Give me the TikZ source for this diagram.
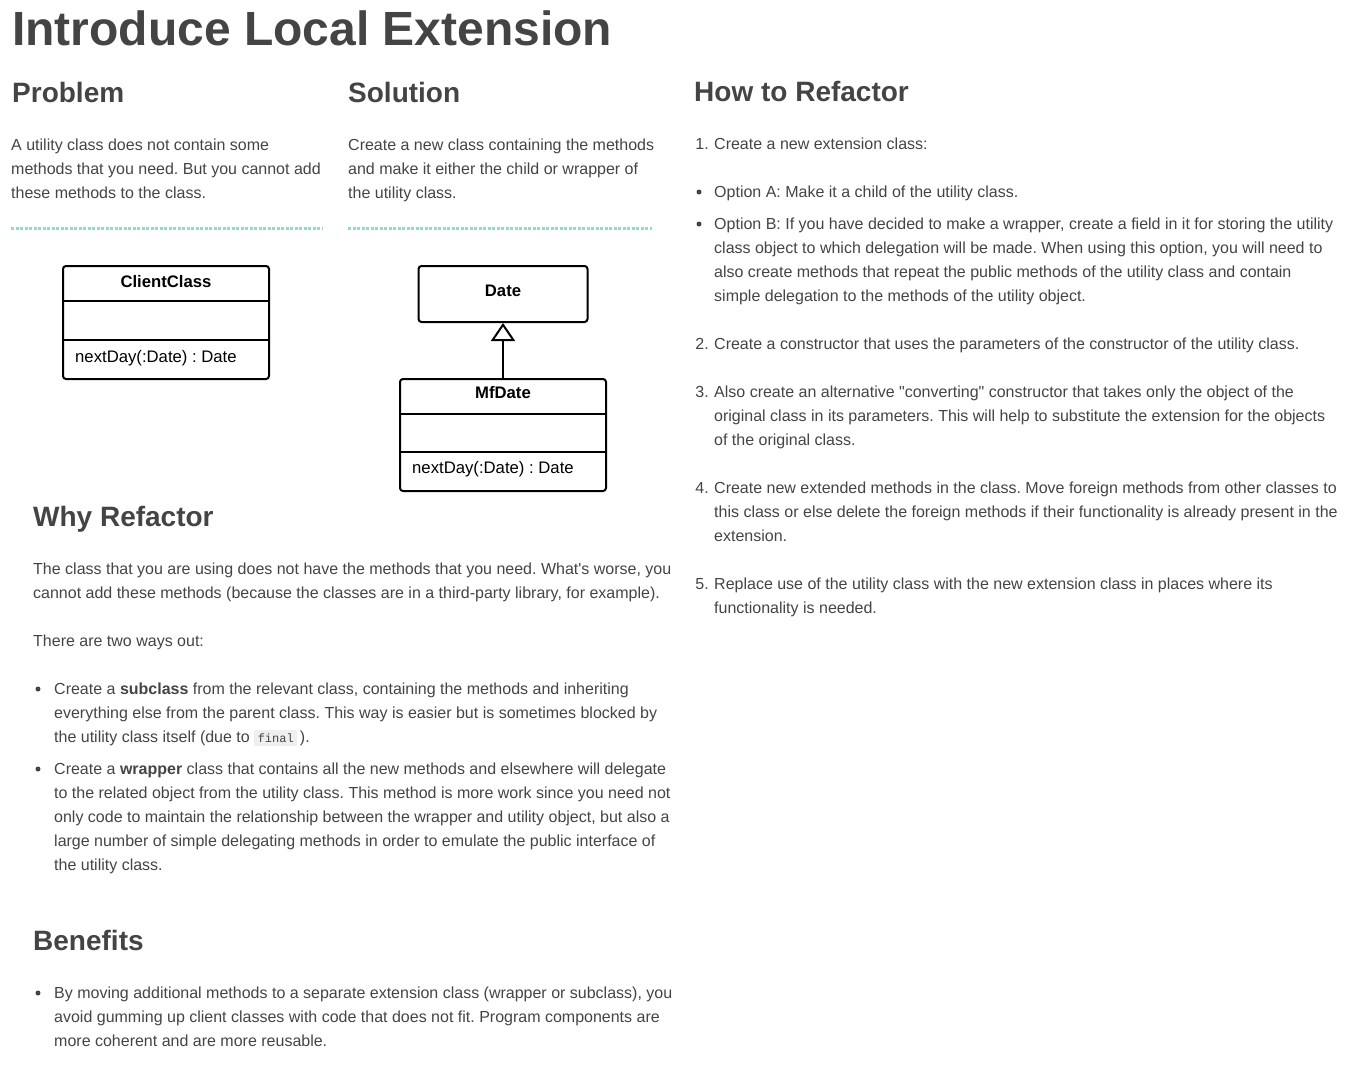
\documentclass[tikz,border=0pt]{standalone}
\usepackage{fontspec}
\setmainfont[Ligatures=TeXOff]{Liberation Sans}
\setmonofont{Liberation Mono}
\usetikzlibrary{arrows.meta}
\definecolor{ink}{HTML}{444444}
\definecolor{rulecol}{HTML}{8FDCCD}
\definecolor{chipcol}{HTML}{EFEFEF}
\newcommand{\finalchip}{{\setlength{\fboxsep}{3.5pt}\colorbox{chipcol}{\fontsize{12}{12}\selectfont\ttfamily\color{ink}final}}}
\frenchspacing
\begin{document}
\begin{tikzpicture}[x=1pt, y=-1pt,
		every node/.style={inner sep=0pt, text=ink},
		body/.style={anchor=base west, align=left, font=\fontsize{16}{24}\selectfont},
		heading/.style={anchor=base west, font=\fontsize{28}{32}\selectfont\bfseries},
		classbox/.style={draw, line width=2pt, rounded corners=3pt},
		classtext/.style={text=black, font=\fontsize{16.7}{20}\selectfont},
		classname/.style={text=black, font=\fontsize{16.7}{20}\selectfont\bfseries},
		dotrule/.style={draw=rulecol, line width=3pt, dash pattern=on 3pt off 1.5pt},
		bullet/.style={fill=ink}]
		\useasboundingbox (0,0) rectangle (1364,1071);
		% title and the two top columns (base of a text = its last line)
		\node (title) at (12,45) [anchor=base west, font=\fontsize{48}{52}\selectfont\bfseries] {Introduce Local Extension};
		\node (problemhead) at (12,102) [heading] {Problem};
		\node (solutionhead) at (348,102) [heading] {Solution};
		\node (problemtext) at (11,198) [body] {A utility class does not contain some\\methods that you need. But you cannot add\\these methods to the class.};
		\node (solutiontext) at (348,198) [body] {Create a new class containing the methods\\and make it either the child or wrapper of\\the utility class.};
		\draw[dotrule] (11,228) -- (322,228);
		\draw[dotrule] (348,228) -- (652,228);
		% class diagrams
		\node (clientbox) at (166,322.5) [classbox, minimum width=206pt, minimum height=113pt] {};
		\draw[line width=2pt] (clientbox.west |- 0,301) -- (clientbox.east |- 0,301);
		\draw[line width=2pt] (clientbox.west |- 0,340) -- (clientbox.east |- 0,340);
		\node (clientname) at (166,282) [classname] {ClientClass};
		\node (clientop) at (75,358) [classtext, anchor=west] {nextDay(:Date) : Date};
		\node (datebox) at (503,294) [classbox, minimum width=169pt, minimum height=56pt] {};
		\node (datename) at (503,291) [classname] {Date};
		\node (mfdatebox) at (503,435) [classbox, minimum width=206pt, minimum height=112pt] {};
		\draw[line width=2pt] (mfdatebox.west |- 0,414) -- (mfdatebox.east |- 0,414);
		\draw[line width=2pt] (mfdatebox.west |- 0,452) -- (mfdatebox.east |- 0,452);
		\node (mfdatename) at (503,393) [classname] {MfDate};
		\node (mfdateop) at (412,469) [classtext, anchor=west] {nextDay(:Date) : Date};
		\draw[line width=2pt, -{Triangle[open, length=18pt, width=24pt]}] (mfdatebox.north) -- (datebox.south);
		% why refactor
		\node (whyhead) at (33,526) [heading] {Why Refactor};
		\node (whytext) at (33,598) [body] {The class that you are using does not have the methods that you need. What's worse, you\\cannot add these methods (because the classes are in a third-party library, for example).};
		\node (waysout) at (33,646) [body] {There are two ways out:};
		\fill[bullet] (38,689) circle (2.5pt);
		\node (subclassitem) at (54,742) [body] {Create a \textbf{subclass} from the relevant class, containing the methods and inheriting\\everything else from the parent class. This way is easier but is sometimes blocked by\\the utility class itself (due to \finalchip\,).};
		\fill[bullet] (38,769) circle (2.5pt);
		\node (wrapperitem) at (54,870) [body] {Create a \textbf{wrapper} class that contains all the new methods and elsewhere will delegate\\to the related object from the utility class. This method is more work since you need not\\only code to maintain the relationship between the wrapper and utility object, but also a\\large number of simple delegating methods in order to emulate the public interface of\\the utility class.};
		% benefits
		\node (benefitshead) at (33,950) [heading] {Benefits};
		\fill[bullet] (38,993) circle (2.5pt);
		\node (benefititem) at (54,1046) [body] {By moving additional methods to a separate extension class (wrapper or subclass), you\\avoid gumming up client classes with code that does not fit. Program components are\\more coherent and are more reusable.};
		% how to refactor
		\node (howhead) at (694,101) [heading] {How to Refactor};
		\node (num1) at (709,149) [body, anchor=base east] {1.};
		\node (step1) at (714,149) [body] {Create a new extension class:};
		\fill[bullet] (699,192) circle (2.5pt);
		\node (optiona) at (714,197) [body] {Option A: Make it a child of the utility class.};
		\fill[bullet] (699,224) circle (2.5pt);
		\node (optionb) at (714,301) [body] {Option B: If you have decided to make a wrapper, create a field in it for storing the utility\\class object to which delegation will be made. When using this option, you will need to\\also create methods that repeat the public methods of the utility class and contain\\simple delegation to the methods of the utility object.};
		\node (num2) at (709,349) [body, anchor=base east] {2.};
		\node (step2) at (714,349) [body] {Create a constructor that uses the parameters of the constructor of the utility class.};
		\node (num3) at (709,397) [body, anchor=base east] {3.};
		\node (step3) at (714,445) [body] {Also create an alternative "converting" constructor that takes only the object of the\\original class in its parameters. This will help to substitute the extension for the objects\\of the original class.};
		\node (num4) at (709,493) [body, anchor=base east] {4.};
		\node (step4) at (714,541) [body] {Create new extended methods in the class. Move foreign methods from other classes to\\this class or else delete the foreign methods if their functionality is already present in the\\extension.};
		\node (num5) at (709,589) [body, anchor=base east] {5.};
		\node (step5) at (714,613) [body] {Replace use of the utility class with the new extension class in places where its\\functionality is needed.};
	\end{tikzpicture}
\end{document}
